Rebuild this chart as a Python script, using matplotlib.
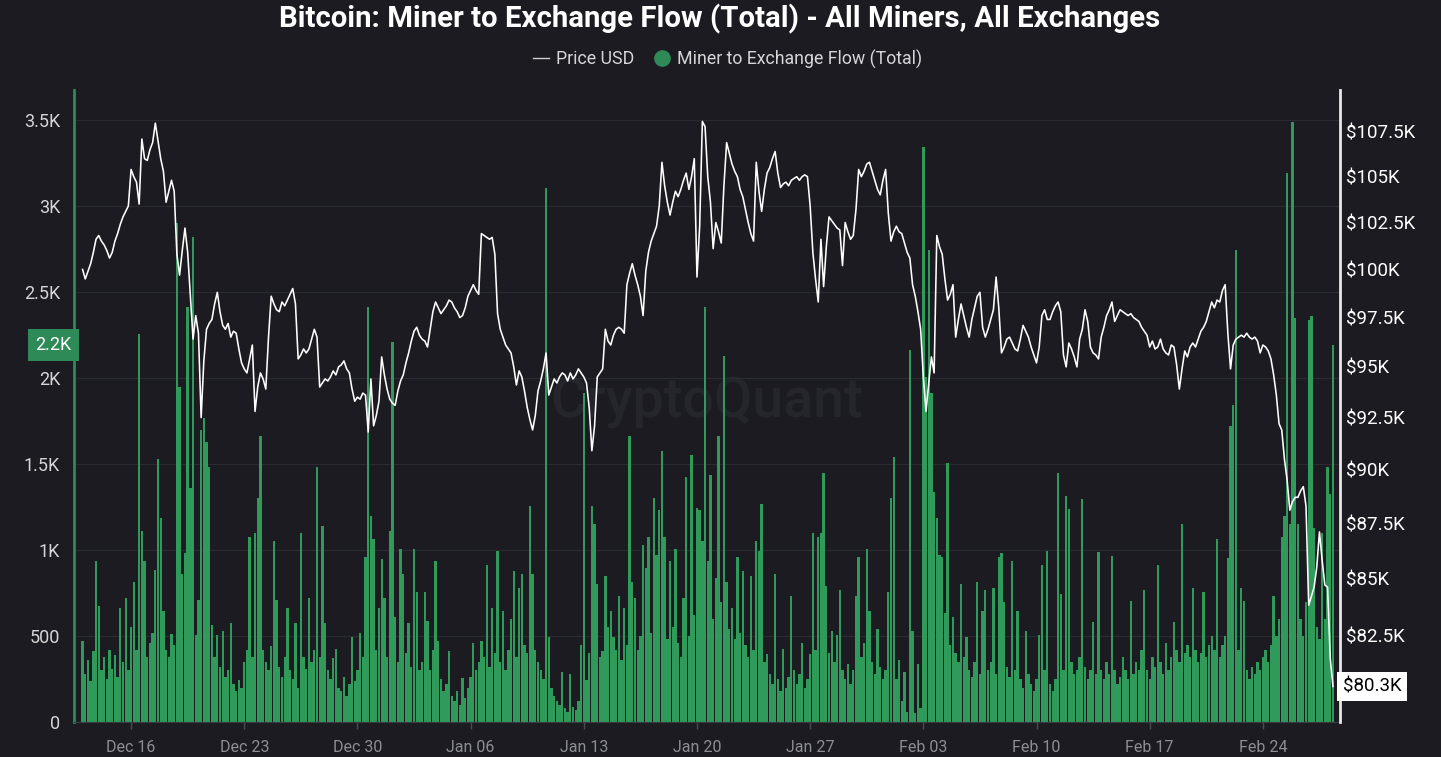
import matplotlib
matplotlib.use('Agg')
import matplotlib.pyplot as plt
import matplotlib.dates as mdates
import matplotlib.ticker as mticker
from matplotlib.lines import Line2D
import numpy as np

plt.rcParams['font.family'] = ['Roboto', 'DejaVu Sans']

# miner -> exchange flow (BTC), 4-hourly, one list per week from Dec 13 2024
flow_w1 = [470, 280, 360, 240, 410, 934,
           672, 300, 380, 250, 420, 310,
           390, 260, 660, 350, 720, 300,
           553, 815, 420, 2257, 1113, 934,
           380, 460, 520, 886, 1530, 1184,
           648, 420, 380, 510, 450, 2900,
           1947, 863, 982, 2412, 1363, 2817]
flow_w2 = [505, 708, 1697, 1768, 1625, 1482,
           565, 380, 505, 320, 529, 260,
           300, 577, 220, 180, 243, 200,
           350, 420, 1077, 380, 1101, 1303,
           1661, 420, 350, 300, 440, 1053,
           708, 320, 260, 380, 660, 300,
           250, 577, 200, 1101, 380, 310]
flow_w3 = [720, 350, 420, 1482, 380, 1137,
           577, 300, 250, 374, 422, 200,
           180, 260, 150, 220, 493, 240,
           300, 517, 380, 958, 2412, 1196,
           1065, 420, 660, 946, 720, 380,
           1113, 2209, 612, 350, 1006, 863,
           400, 577, 320, 1006, 755, 300]
flow_w4 = [350, 755, 589, 300, 420, 934,
           470, 250, 180, 220, 410, 150,
           120, 180, 100, 255, 140, 200,
           260, 458, 300, 350, 470, 380,
           910, 320, 660, 400, 994, 350,
           648, 300, 420, 600, 875, 380,
           779, 863, 450, 400, 1256, 863]
flow_w5 = [420, 350, 300, 250, 3103, 493,
           200, 150, 120, 100, 291, 80,
           60, 279, 90, 70, 120, 446,
           1911, 243, 400, 1256, 1149, 803,
           380, 410, 851, 553, 648, 493,
           420, 732, 362, 660, 450, 1661,
           815, 720, 420, 500, 1030, 898]
flow_w6 = [1077, 520, 1303, 970, 1232, 1578,
           1077, 480, 934, 550, 1006, 460,
           380, 720, 1423, 500, 1554, 620,
           1244, 1232, 1053, 2412, 934, 1435,
           600, 839, 1661, 700, 2126, 815,
           540, 660, 480, 958, 520, 875,
           450, 380, 851, 420, 1053, 994]
flow_w7 = [1268, 350, 398, 280, 220, 863,
           250, 180, 422, 200, 260, 732,
           300, 220, 280, 458, 200, 250,
           398, 1101, 420, 1077, 1101, 1447,
           791, 400, 529, 350, 505, 767,
           300, 250, 338, 220, 300, 732,
           958, 380, 458, 1006, 648, 350]
flow_w8 = [280, 541, 320, 250, 300, 755,
           1303, 1542, 250, 362, 120, 291,
           60, 2161, 529, 50, 338, 80,
           3341, 2007, 2745, 1911, 1339, 1184,
           970, 958, 636, 1506, 450, 612,
           400, 350, 803, 380, 493, 300,
           260, 350, 815, 280, 648, 767]
flow_w9 = [300, 350, 779, 280, 958, 982,
           696, 320, 260, 934, 300, 648,
           250, 200, 529, 280, 220, 180,
           250, 505, 910, 300, 994, 220,
           180, 250, 1447, 744, 300, 1315,
           1237, 350, 280, 300, 380, 1299,
           320, 250, 300, 581, 280, 990]
flow_w10 = [300, 250, 350, 280, 965, 300,
            220, 260, 380, 300, 250, 705,
            280, 350, 300, 420, 767, 300,
            250, 380, 320, 915, 350, 280,
            457, 300, 380, 581, 420, 350,
            1150, 400, 450, 380, 779, 420,
            350, 400, 755, 380, 450, 500]
flow_w11 = [420, 1064, 380, 450, 500, 952,
            1719, 1843, 2746, 420, 779, 705,
            300, 250, 320, 280, 350, 300,
            380, 420, 350, 450, 730, 500,
            600, 1076, 1200, 3191, 1150, 3488,
            2350, 1150, 600, 500, 700, 2338,
            2363, 1126, 550, 480, 1101, 600]
flow_w12 = [1484, 1324, 2190]

# btc price in $K, same 4-hourly grid
price_w1 = [100.0, 99.5, 99.9, 100.3, 100.9, 101.6,
            101.8, 101.5, 101.3, 101.0, 100.6, 100.9,
            101.5, 101.9, 102.4, 102.8, 103.1, 103.4,
            105.4, 105.0, 104.7, 103.5, 107.1, 106.0,
            105.9, 106.5, 106.9, 108.0, 107.0, 106.0,
            105.3, 103.6, 104.2, 104.8, 104.2, 100.8,
            99.7, 101.0, 102.2, 100.9, 98.6, 96.4]
price_w2 = [97.6, 96.7, 92.5, 95.3, 96.9, 97.2,
            97.4, 98.2, 98.8, 97.8, 97.1, 96.9,
            97.2, 96.5, 96.8, 96.7, 95.9, 95.2,
            94.9, 94.7, 95.4, 96.1, 92.8, 94.0,
            94.7, 94.4, 93.9, 96.5, 98.6, 98.2,
            97.9, 97.8, 98.3, 98.1, 98.4, 98.7,
            99.0, 98.2, 95.4, 95.6, 95.9, 95.7]
price_w3 = [95.9, 96.4, 96.9, 96.5, 94.0, 94.2,
            94.4, 94.3, 94.5, 94.8, 94.6, 95.0,
            95.1, 95.3, 94.9, 94.7, 93.9, 93.3,
            93.5, 93.4, 93.7, 93.6, 91.8, 94.4,
            92.1, 92.6, 93.3, 95.5, 94.6, 93.9,
            93.4, 93.2, 93.1, 93.8, 94.3, 94.6,
            95.2, 95.7, 96.3, 96.8, 97.0, 96.6]
price_w4 = [96.4, 96.3, 96.0, 96.9, 97.8, 98.3,
            98.0, 97.7, 97.9, 98.1, 98.4, 98.3,
            98.0, 97.8, 97.5, 97.6, 98.0, 98.6,
            98.9, 99.2, 98.9, 98.7, 101.9, 101.8,
            101.7, 101.6, 101.7, 100.8, 97.7, 96.9,
            96.5, 96.1, 95.9, 95.7, 95.0, 94.1,
            94.8, 94.5, 93.8, 93.0, 92.4, 91.9]
price_w5 = [92.6, 93.8, 94.3, 94.9, 95.7, 93.6,
            94.0, 94.4, 94.2, 94.5, 94.7, 94.6,
            94.3, 94.7, 94.4, 94.6, 94.9, 94.7,
            94.5, 94.2, 93.0, 90.9, 92.1, 94.5,
            94.7, 94.9, 96.9, 96.3, 96.1, 96.6,
            96.9, 97.0, 96.9, 96.7, 99.2, 99.8,
            100.3, 99.7, 99.2, 98.6, 97.6, 99.9]
price_w6 = [100.9, 101.5, 101.9, 102.3, 103.4, 105.8,
            104.5, 103.6, 102.9, 103.6, 104.2, 103.9,
            104.3, 104.8, 105.2, 104.3, 105.0, 106.0,
            99.6, 102.3, 108.1, 107.8, 105.0, 103.6,
            101.1, 102.5, 102.0, 101.4, 104.5, 106.9,
            106.3, 105.7, 105.3, 105.0, 104.3, 103.9,
            103.2, 102.5, 101.9, 101.5, 105.8, 104.2]
price_w7 = [103.1, 104.3, 105.2, 105.5, 106.0, 106.4,
            105.2, 104.4, 104.6, 104.7, 104.5, 104.8,
            104.9, 105.0, 104.8, 105.0, 105.1, 105.0,
            103.4, 100.9, 99.5, 98.3, 101.6, 99.1,
            101.2, 102.8, 102.6, 102.4, 102.2, 102.1,
            100.2, 102.5, 102.0, 101.6, 101.8, 103.2,
            105.4, 105.0, 105.3, 105.7, 105.8, 105.3]
price_w8 = [104.8, 104.3, 104.0, 104.8, 105.4, 103.0,
            101.5, 102.0, 102.3, 102.0, 101.9, 101.4,
            100.9, 100.6, 99.2, 98.6, 97.8, 96.9,
            94.5, 92.8, 94.2, 95.5, 94.7, 101.8,
            101.2, 100.8, 99.5, 98.4, 98.7, 99.2,
            96.5, 97.4, 98.2, 97.6, 97.0, 96.5,
            97.4, 98.0, 98.6, 98.8, 97.0, 96.5]
price_w9 = [96.9, 97.4, 97.9, 99.6, 98.0, 95.7,
            96.0, 96.4, 96.5, 96.2, 95.9, 95.8,
            96.4, 97.1, 96.8, 96.5, 96.0, 95.6,
            95.2, 96.0, 97.6, 97.9, 97.4, 97.4,
            97.8, 98.1, 98.3, 97.8, 95.6, 95.0,
            96.2, 95.9, 95.5, 95.0, 96.4, 96.9,
            97.9, 97.3, 96.0, 95.7, 95.6, 95.4]
price_w10 = [96.5, 97.0, 97.6, 97.9, 98.3, 97.3,
             97.6, 97.9, 97.8, 97.7, 97.6, 97.7,
             97.5, 97.4, 97.3, 97.0, 96.8, 96.6,
             96.0, 96.3, 95.9, 96.0, 96.4, 95.9,
             95.7, 95.6, 96.1, 96.0, 95.1, 93.9,
             94.9, 95.8, 95.5, 96.0, 96.2, 96.0,
             96.4, 96.8, 97.0, 97.3, 97.8, 98.3]
price_w11 = [98.0, 98.4, 98.3, 98.9, 99.2, 96.7,
             94.9, 96.1, 96.4, 96.5, 96.6, 96.5,
             96.7, 96.5, 96.4, 96.5, 96.3, 95.7,
             96.1, 96.0, 95.8, 95.4, 94.6, 93.6,
             92.2, 91.9, 90.5, 89.5, 88.1, 88.5,
             88.7, 88.7, 89.0, 89.2, 88.3, 83.8,
             84.2, 84.6, 85.5, 87.1, 85.8, 84.7]
price_w12 = [84.6, 81.5, 80.3]

left_ticks = [0, 500, 1000, 1500, 2000, 2500, 3000, 3500]
left_labels = ['0', '500', '1K', '1.5K', '2K', '2.5K', '3K', '3.5K']
right_ticks = [82500, 85000, 87500, 90000, 92500, 95000, 97500, 100000, 102500, 105000, 107500]

flow = np.array(flow_w1 + flow_w2 + flow_w3 + flow_w4 + flow_w5 + flow_w6 +
                flow_w7 + flow_w8 + flow_w9 + flow_w10 + flow_w11 + flow_w12)
price = np.array(price_w1 + price_w2 + price_w3 + price_w4 + price_w5 + price_w6 +
                 price_w7 + price_w8 + price_w9 + price_w10 + price_w11 + price_w12) * 1000
start = np.datetime64('2024-12-13T00:00')
times = start + np.arange(len(flow)) * np.timedelta64(4, 'h')

bg = '#1b1b21'
green = '#2f9a5a'

fig = plt.figure(figsize=(14.41, 7.57), dpi=100, facecolor=bg)
ax = fig.add_axes([0.05135, 0.04624, 0.87856, 0.83487])
ax.set_facecolor(bg)

# bars first, price on a twin axis above
ax.bar(times, flow, width=0.145, color=green, linewidth=0, zorder=2)
ax.set_ylim(0, 3674)
ax.set_yticks(left_ticks)
ax.set_yticklabels(left_labels)
ax.grid(axis='y', color='#2a2a31', linewidth=0.9, zorder=0)
ax.tick_params(axis='y', length=0, pad=10, labelcolor='#d6d6d8', labelsize=13)
ax.tick_params(axis='x', length=5, width=1, color='#4a4a52', pad=8,
               labelcolor='#8d8d94', labelsize=11.5)
ax.xaxis.set_major_locator(mdates.WeekdayLocator(byweekday=mdates.MO))
ax.xaxis.set_major_formatter(mdates.DateFormatter('%b %d'))
x0 = mdates.date2num(start)
ax.set_xlim(x0 - 0.53, x0 + 77.77)

for s in ['top', 'right']:
    ax.spines[s].set_visible(False)
ax.spines['left'].set_color('#2e8b57')
ax.spines['left'].set_linewidth(2)
ax.spines['bottom'].set_color('#3a3a42')

ax.text(0.5, 0.505, 'CryptoQuant', transform=ax.transAxes, ha='center', va='center',
        fontsize=40, fontweight='medium', color='#25252c', zorder=1)

ax2 = ax.twinx()
ax2.plot(times, price, color='white', linewidth=1.15)
ax2.set_yscale('log')
ax2.set_ylim(78810, 109900)
ax2.yaxis.set_major_locator(mticker.FixedLocator(right_ticks))
ax2.yaxis.set_minor_locator(mticker.NullLocator())
ax2.yaxis.set_major_formatter(mticker.FuncFormatter(lambda v, p: '${:g}K'.format(v / 1000)))
ax2.tick_params(axis='y', length=0, pad=4.5, labelcolor='white', labelsize=13.5)
for s in ['top', 'left', 'bottom']:
    ax2.spines[s].set_visible(False)
ax2.spines['right'].set_color('#e8e8e8')
ax2.spines['right'].set_linewidth(2)

# last value tags on both axes
ax.text(-0.002, flow[-1], '{:.1f}K'.format(flow[-1] / 1000), transform=ax.get_yaxis_transform(),
        ha='right', va='center', color='white', fontsize=13,
        bbox=dict(boxstyle='square,pad=0.4', fc='#2e8b57', ec='none'))
ax2.text(1.002, price[-1], '${:.1f}K'.format(price[-1] / 1000), transform=ax2.get_yaxis_transform(),
         ha='left', va='center', color='black', fontsize=13.5,
         bbox=dict(boxstyle='square,pad=0.3', fc='white', ec='none'))

fig.text(0.4997, 0.975, 'Bitcoin: Miner to Exchange Flow (Total) - All Miners, All Exchanges',
         ha='center', va='center', color='white', fontsize=21.2, fontweight='bold')

handles = [Line2D([0], [0], color='#d0d0d0', linewidth=1),
           Line2D([0], [0], marker='o', color='none', markerfacecolor='#2e8b57',
                  markeredgecolor='#2e8b57', markersize=11)]
fig.legend(handles, ['Price USD', 'Miner to Exchange Flow (Total)'], loc='center',
           bbox_to_anchor=(0.505, 0.922), ncol=2, frameon=False, fontsize=12.8,
           labelcolor='#d6d6d8', handlelength=0.9, handletextpad=0.4, columnspacing=1.1)

fig.savefig('out.png', dpi=100, facecolor=bg)
